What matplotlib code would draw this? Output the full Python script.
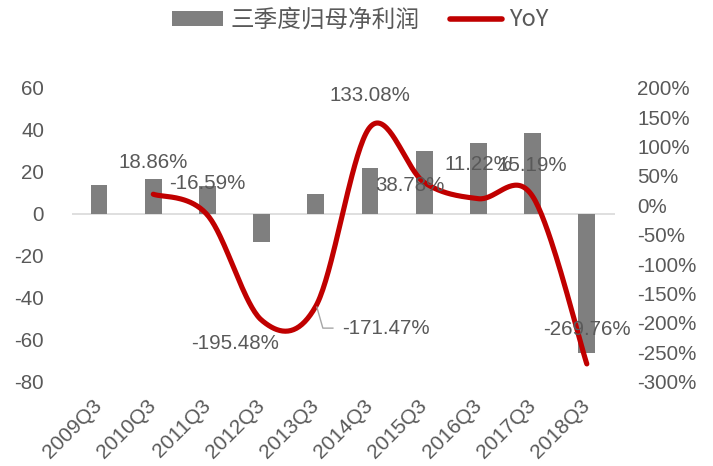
import matplotlib
matplotlib.use("Agg")
import matplotlib.pyplot as plt
from matplotlib.patches import Patch
from matplotlib.lines import Line2D
import numpy as np

categories = ["2009Q3", "2010Q3", "2011Q3", "2012Q3", "2013Q3",
              "2014Q3", "2015Q3", "2016Q3", "2017Q3", "2018Q3"]
profit = [13.6, 16.3, 13.3, -13.5, 9.2, 21.6, 30.0, 33.7, 38.6, -66.2]
yoy_idx = [1, 2, 3, 4, 5, 6, 7, 8, 9]
yoy = [18.86, -16.59, -195.48, -171.47, 133.08, 38.78, 11.22, 15.19, -269.76]
yoy_labels = ["18.86%", "-16.59%", "-195.48%", "-171.47%", "133.08%",
              "38.78%", "11.22%", "15.19%", "-269.76%"]
left_ticks = [-80, -60, -40, -20, 0, 20, 40, 60]
right_ticks = [-300, -250, -200, -150, -100, -50, 0, 50, 100, 150, 200]

# label offsets in pixels (style)
label_offsets = [(0, 32), (0, 32), (-27, -23), (70, -22), (0, 32),
                 (-14, -3), (0, 34), (0, 31), (0, 34)]

plt.rcParams['axes.unicode_minus'] = False
TXT = "#595959"
FONT = "Liberation Sans"
FS = 14.8

fig = plt.figure(figsize=(7.13, 4.66), dpi=100)
ax = fig.add_axes([72/713, 1-381.7/466, (615-72)/713, (381.7-87.7)/466])
ax2 = ax.twinx()

x = np.arange(len(categories))
ax.bar(x, profit, width=0.31, color="#7F7F7F", zorder=2)
ax.axhline(0, color="#D9D9D9", lw=1.2, zorder=1)
ax.set_xlim(-0.5, 9.52)
ax.set_ylim(-80, 60)
ax.set_yticks(left_ticks)
ax.set_yticklabels([str(t) for t in left_ticks])
ax.set_xticks(x)
ax.set_xticklabels(categories, rotation=45, ha="right", va="center",
                   rotation_mode="anchor")
for s in ax.spines.values():
    s.set_visible(False)
for s in ax2.spines.values():
    s.set_visible(False)
ax.tick_params(axis="y", length=0, pad=20, labelsize=FS, labelcolor=TXT)
ax.tick_params(axis="x", length=0, pad=15, labelsize=15, labelcolor=TXT)
for lab in ax.get_xticklabels() + ax.get_yticklabels():
    lab.set_fontfamily(FONT)

ax2.set_ylim(-300, 200)
ax2.set_yticks(right_ticks)
ax2.set_yticklabels([f"{t}%" for t in right_ticks])
ax2.tick_params(axis="y", length=0, pad=16, labelsize=FS, labelcolor=TXT)
for lab in ax2.get_yticklabels():
    lab.set_fontfamily(FONT)

# Excel-style smoothed line (Bezier through data points)
px = np.array(yoy_idx, dtype=float)
py = np.array(yoy, dtype=float)
n = len(px)
xs, ys = [], []
t = np.linspace(0, 1, 40)
for i in range(n - 1):
    p0 = np.array([px[i], py[i]])
    p3 = np.array([px[i + 1], py[i + 1]])
    pm = np.array([px[i - 1], py[i - 1]]) if i > 0 else p0
    pp = np.array([px[i + 2], py[i + 2]]) if i + 2 < n else p3
    c1 = p0 + (p3 - pm) / 6
    c2 = p3 - (pp - p0) / 6
    b = ((1 - t) ** 3)[:, None] * p0 + (3 * (1 - t) ** 2 * t)[:, None] * c1 \
        + (3 * (1 - t) * t ** 2)[:, None] * c2 + (t ** 3)[:, None] * p3
    xs.extend(b[:, 0]); ys.extend(b[:, 1])
ax2.plot(xs, ys, color="#C00000", lw=3.7, solid_capstyle="round", zorder=3)

for xi, yi, lab, off in zip(yoy_idx, yoy, yoy_labels, label_offsets):
    ax2.annotate(lab, (xi, yi), xytext=off, textcoords="offset pixels",
                 ha="center", va="center", fontsize=FS, color=TXT,
                 fontfamily=FONT, zorder=4)

# leader line for -171.47%
fig.canvas.draw()
dx, dy = ax2.transData.transform((yoy_idx[3], yoy[3]))
lx = [dx + 1, dx + 7, dx + 17]
ly = [dy - 1, dy - 22, dy - 22]
fig.add_artist(Line2D(lx, ly, transform=None, color="#A6A6A6", lw=1))

handles = [Patch(facecolor="#7F7F7F", edgecolor="none"),
           Line2D([0], [0], color="#C00000", lw=4, solid_capstyle="round")]
leg = fig.legend(handles, ["三季度归母净利润", "YoY"], loc="center",
                 bbox_to_anchor=(0.505, 1 - 20/466), ncol=2, frameon=False,
                 prop={"family": ["Noto Sans CJK SC", "DejaVu Sans"], "size": 17},
                 handlelength=2.2, handleheight=0.6, handletextpad=0.3,
                 columnspacing=1.3, labelcolor=TXT)

fig.savefig("out.png", dpi=100)
